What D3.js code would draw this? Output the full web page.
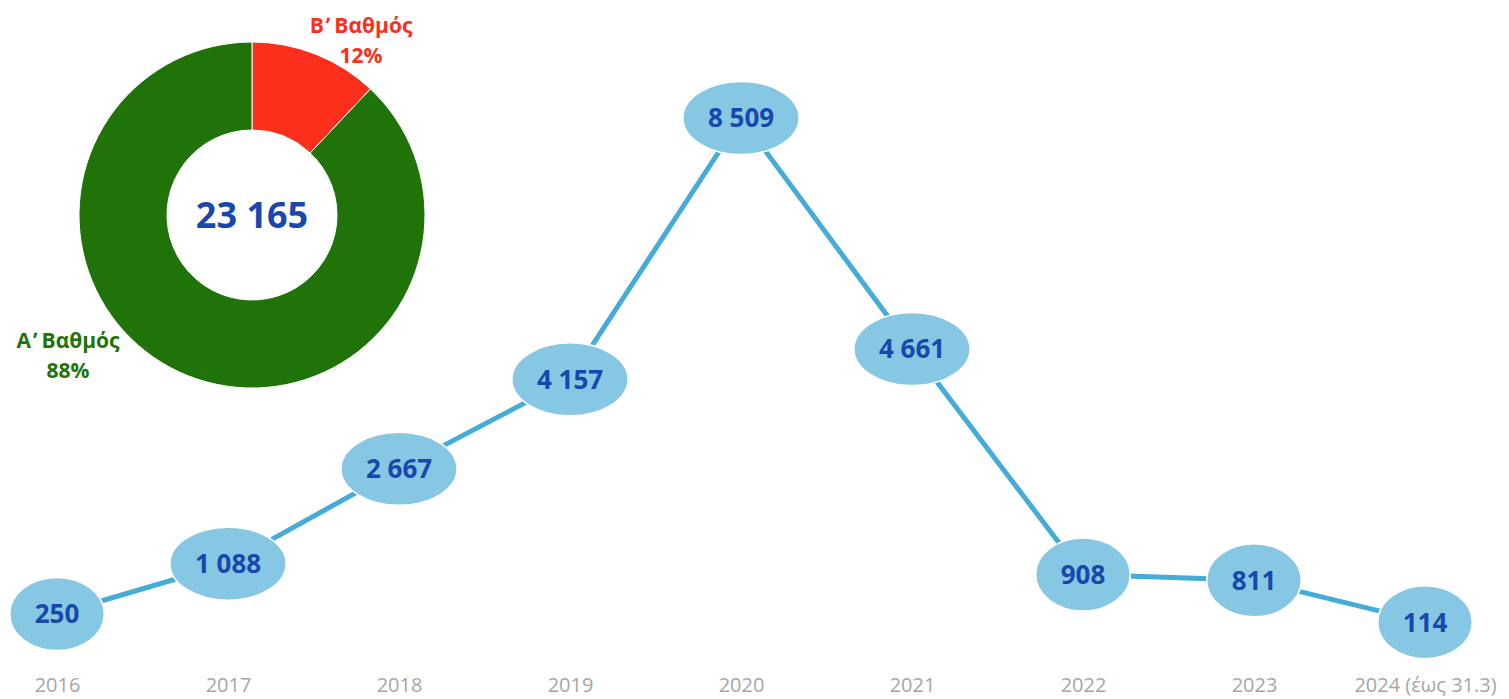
<!DOCTYPE html>
<html>
<head>
<meta charset="utf-8">
<script src="https://cdn.jsdelivr.net/npm/d3@7"></script>
<style>
  body { margin: 0; background: #fff; }
  svg { display: block; font-family: "Open Sans", "Noto Sans", sans-serif; }
</style>
</head>
<body>
<svg id="chart" width="1509" height="699"></svg>
<script>
// yearly counts
var years = ["2016", "2017", "2018", "2019", "2020", "2021", "2022", "2023", "2024 (έως 31.3)"];
var counts = [250, 1088, 2667, 4157, 8509, 4661, 908, 811, 114];

// donut split
var gradeLetters = ["Β", "Α"];
var gradeNames = ["Βαθμός", "Βαθμός"];
var gradeShares = [12, 88];
var gradeColors = ["#fc2f1d", "#1f7309"];
var totalLabel = "23 165";

var svg = d3.select("#chart");

var fmt = function(v) { return d3.format(",")(v).replace(/,/g, " "); };

var x = d3.scalePoint()
    .domain(years)
    .range([57, 1425]);

var y = d3.scaleLinear()
    .domain([0, d3.max(counts)])
    .range([629, 118]);

var pts = years.map(function(d, i) { return {year: d, value: counts[i]}; });

// x axis labels only, no line or ticks
var xAxis = svg.append("g")
    .attr("transform", "translate(0,686)")
    .call(d3.axisBottom(x).tickSize(0).tickPadding(0));
xAxis.select(".domain").remove();
xAxis.selectAll("text")
    .attr("dy", "0.32em")
    .style("font-size", "20px")
    .style("font-family", "'Open Sans', sans-serif")
    .style("fill", "#a6a6a6");

// line
var line = d3.line()
    .x(function(d) { return x(d.year); })
    .y(function(d) { return y(d.value); });

svg.append("path")
    .datum(pts)
    .attr("d", line)
    .attr("fill", "none")
    .attr("stroke", "#45acd8")
    .attr("stroke-width", 5);

// markers with labels
var mark = svg.selectAll(".mark")
    .data(pts)
    .enter().append("g")
      .attr("class", "mark")
      .attr("transform", function(d) { return "translate(" + x(d.year) + "," + y(d.value) + ")"; });

mark.append("ellipse")
    .attr("fill", "#86c7e3")
    .attr("stroke", "#ffffff")
    .attr("stroke-width", 1.5);

mark.append("text")
    .attr("text-anchor", "middle")
    .attr("dy", "0.36em")
    .style("font-size", "26px")
    .style("font-weight", "bold")
    .style("fill", "#1847ad")
    .text(function(d) { return fmt(d.value); });

mark.each(function() {
  var g = d3.select(this);
  var w = g.select("text").node().getComputedTextLength();
  g.select("ellipse").attr("rx", w / 2 + 25).attr("ry", 36.5);
});

// donut
var cx = 252, cy = 215;
var pie = d3.pie().sort(null).value(function(d) { return d; });
var arc = d3.arc().innerRadius(85).outerRadius(173);

var donut = svg.append("g").attr("transform", "translate(" + cx + "," + cy + ")");
donut.selectAll("path")
    .data(pie(gradeShares))
    .enter().append("path")
      .attr("d", arc)
      .attr("fill", function(d, i) { return gradeColors[i]; })
      .attr("stroke", "#ffffff")
      .attr("stroke-width", 1);

donut.append("text")
    .attr("text-anchor", "middle")
    .attr("dy", "0.36em")
    .style("font-size", "36px")
    .style("font-weight", "bold")
    .style("fill", "#1847ad")
    .text(totalLabel);

// donut labels (tonos drawn as its own tspan so it doesn't stack on the letter)
var labelPos = [[361, 33], [68, 348]];
gradeNames.forEach(function(name, i) {
  var t = svg.append("text")
      .attr("text-anchor", "middle")
      .attr("x", labelPos[i][0])
      .attr("y", labelPos[i][1])
      .style("font-size", "21px")
      .style("font-weight", "bold")
      .style("fill", gradeColors[i]);
  t.append("tspan").text(gradeLetters[i]);
  t.append("tspan").attr("dx", 2).text("\u02B9");
  t.append("tspan").attr("dx", 4).text(name);
  t.append("tspan").attr("x", labelPos[i][0]).attr("dy", 30).text(gradeShares[i] + "%");
});
</script>
</body>
</html>
